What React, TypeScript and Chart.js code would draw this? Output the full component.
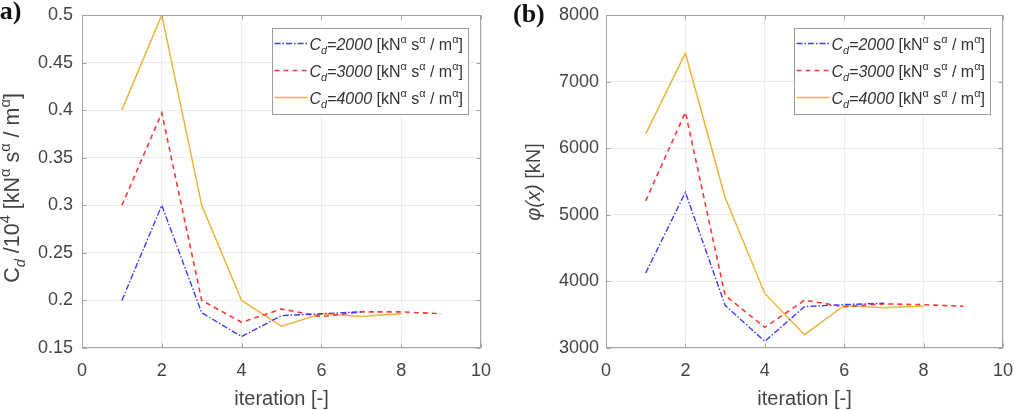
import React, { useEffect, useRef } from 'react';
import { Chart, registerables } from 'chart.js';

Chart.register(...registerables);

// ---------- data ----------
const iterBlue = [1, 2, 3, 4, 5, 6, 7];
const iterRed = [1, 2, 3, 4, 5, 6, 7, 8, 9];
const iterYellow = [1, 2, 3, 4, 5, 6, 7, 8];

const cdBlue = [0.2, 0.3, 0.187, 0.162, 0.184, 0.186, 0.188];
const cdRed = [0.3, 0.397, 0.2, 0.177, 0.191, 0.183, 0.188, 0.188, 0.186];
const cdYellow = [0.4, 0.5, 0.3, 0.2, 0.173, 0.186, 0.183, 0.186];

const phiBlue = [4126, 5338, 3641, 3100, 3621, 3652, 3671];
const phiRed = [5210, 6540, 3790, 3310, 3718, 3620, 3663, 3650, 3627];
const phiYellow = [6214, 7426, 5260, 3819, 3200, 3638, 3603, 3630];

const xTicks = [0, 2, 4, 6, 8, 10];
const cdTicks = [0.15, 0.2, 0.25, 0.3, 0.35, 0.4, 0.45, 0.5];
const phiTicks = [3000, 4000, 5000, 6000, 7000, 8000];

const cdValues = ['2000', '3000', '4000'];
const xTitle = 'iteration [-]';

// ---------- styles ----------
const FONT = '"Liberation Sans", Arial, Helvetica, sans-serif';
const TEXT = '#444444';
const BORDER = '#a3a3a3';
const GRID = '#ececec';
const seriesStyle = [
  { color: 'rgb(60,60,255)', dash: [6, 2, 1.5, 2], width: 1.4 },
  { color: 'rgb(255,55,55)', dash: [5, 4], width: 1.6 },
  { color: '#EDB53A', dash: [] as number[], width: 1.5 },
];

type Seg = { t: string; it?: boolean; sub?: boolean; sup?: boolean };

function richWidth(ctx: CanvasRenderingContext2D, segs: Seg[], size: number) {
  let w = 0;
  for (const s of segs) {
    const sz = s.sub || s.sup ? size * 0.68 : size;
    ctx.font = `${s.it ? 'italic ' : ''}${sz}px ${FONT}`;
    w += ctx.measureText(s.t).width;
  }
  return w;
}

function drawRich(ctx: CanvasRenderingContext2D, segs: Seg[], x: number, y: number, size: number) {
  let cx = x;
  ctx.textBaseline = 'alphabetic';
  ctx.textAlign = 'left';
  for (const s of segs) {
    const sz = s.sub || s.sup ? size * 0.68 : size;
    ctx.font = `${s.it ? 'italic ' : ''}${sz}px ${FONT}`;
    const dy = s.sub ? size * 0.28 : s.sup ? -size * 0.42 : 0;
    ctx.fillText(s.t, cx, y + dy);
    cx += ctx.measureText(s.t).width;
  }
}

function legendSegs(v: string): Seg[] {
  return [
    { t: 'C', it: true },
    { t: 'd', it: true, sub: true },
    { t: '=' + v, it: true },
    { t: ' [kN' },
    { t: 'α', sup: true },
    { t: ' s' },
    { t: 'α', sup: true },
    { t: ' / m' },
    { t: 'α', sup: true },
    { t: ']' },
  ];
}

const cdTitle: Seg[] = [
  { t: 'C' },
  { t: 'd', it: true, sub: true },
  { t: ' /10' },
  { t: '4', sup: true },
  { t: ' [kN' },
  { t: 'α', sup: true },
  { t: ' s' },
  { t: 'α', sup: true },
  { t: ' / m' },
  { t: 'α', sup: true },
  { t: ']' },
];

const phiTitle: Seg[] = [{ t: 'φ(x)', it: true }, { t: ' [kN]' }];

type PanelProps = {
  left: number;
  width: number;
  yWidth: number;
  padRight: number;
  series: number[][];
  iters: number[][];
  yTicks: number[];
  yTitle: Seg[];
  yTitleSize: number;
  yTitleX: number;
  yTitleY: number;
  label: string;
  labelX: number;
  labelY: number;
  tickPad: number;
};

function Panel(p: PanelProps) {
  const ref = useRef<HTMLCanvasElement>(null);
  useEffect(() => {
    const canvas = ref.current!;
    const decor = {
      id: 'decor',
      afterDraw(chart: any) {
        const ctx: CanvasRenderingContext2D = chart.ctx;
        const a = chart.chartArea;
        const xs = chart.scales.x;
        const ys = chart.scales.y;
        ctx.save();
        // box
        ctx.strokeStyle = BORDER;
        ctx.lineWidth = 1;
        const L = Math.round(a.left) + 0.5;
        const R = Math.round(a.right) - 0.5;
        const T = Math.round(a.top) + 0.5;
        const B = Math.round(a.bottom) - 0.5;
        ctx.strokeRect(L, T, R - L, B - T);
        // inward ticks
        ctx.beginPath();
        for (const v of xTicks) {
          const px = Math.round(xs.getPixelForValue(v)) + 0.5;
          ctx.moveTo(px, B); ctx.lineTo(px, B - 4);
          ctx.moveTo(px, T); ctx.lineTo(px, T + 4);
        }
        for (const v of p.yTicks) {
          const py = Math.round(ys.getPixelForValue(v)) + 0.5;
          ctx.moveTo(L, py); ctx.lineTo(L + 4, py);
          ctx.moveTo(R, py); ctx.lineTo(R - 4, py);
        }
        ctx.stroke();

        // legend
        const size = 16;
        let tw = 0;
        for (const v of cdValues) tw = Math.max(tw, richWidth(ctx, legendSegs(v), size));
        const bw = Math.round(37 + tw + 6);
        const bh = 86;
        const bx = Math.round(a.right - 13 - bw) + 0.5;
        const by = Math.round(a.top + 13) + 0.5;
        ctx.fillStyle = '#ffffff';
        ctx.fillRect(bx, by, bw, bh);
        ctx.strokeStyle = '#9c9c9c';
        ctx.lineWidth = 1;
        ctx.strokeRect(bx, by, bw, bh);
        cdValues.forEach((v, i) => {
          const ry = by + 15 + i * 27;
          const st = seriesStyle[i];
          ctx.beginPath();
          ctx.strokeStyle = st.color;
          ctx.lineWidth = st.width;
          ctx.setLineDash(st.dash);
          ctx.moveTo(bx + 2, ry);
          ctx.lineTo(bx + 35, ry);
          ctx.stroke();
          ctx.setLineDash([]);
          ctx.fillStyle = '#333333';
          drawRich(ctx, legendSegs(v), bx + 37, ry + 6, size);
        });

        // y title
        ctx.fillStyle = TEXT;
        const ts = p.yTitleSize;
        const w = richWidth(ctx, p.yTitle, ts);
        ctx.save();
        ctx.translate(p.yTitleX, p.yTitleY);
        ctx.rotate(-Math.PI / 2);
        drawRich(ctx, p.yTitle, -w / 2, 0, ts);
        ctx.restore();

        // x title
        ctx.font = `20px ${FONT}`;
        ctx.textAlign = 'center';
        ctx.textBaseline = 'alphabetic';
        ctx.fillStyle = TEXT;
        ctx.fillText(xTitle, (a.left + a.right) / 2, 405);

        // panel label
        ctx.font = `bold 26px "Liberation Serif", "Times New Roman", serif`;
        ctx.textAlign = 'left';
        ctx.fillStyle = '#111111';
        ctx.fillText(p.label, p.labelX, p.labelY);
        ctx.restore();
      },
    };

    const chart = new Chart(canvas, {
      type: 'line',
      data: {
        datasets: p.series.map((vals, i) => ({
          label: cdValues[i],
          data: p.iters[i].map((x, j) => ({ x, y: vals[j] })),
          borderColor: seriesStyle[i].color,
          borderWidth: seriesStyle[i].width,
          borderDash: seriesStyle[i].dash,
          pointRadius: 0,
          tension: 0,
          fill: false,
        })),
      },
      options: {
        animation: false,
        responsive: false,
        maintainAspectRatio: false,
        events: [],
        layout: { padding: { left: 0, top: 15, right: p.padRight, bottom: 0 } },
        plugins: { legend: { display: false }, tooltip: { enabled: false }, title: { display: false } },
        scales: {
          x: {
            type: 'linear',
            min: 0,
            max: 10,
            afterBuildTicks: (s: any) => { s.ticks = xTicks.map((v) => ({ value: v })); },
            afterFit: (s: any) => { s.height = 62; s.paddingLeft = 0; s.paddingRight = 0; },
            grid: { color: GRID, drawTicks: false },
            border: { display: false },
            ticks: {
              padding: 12,
              color: TEXT,
              font: { family: FONT, size: 18 },
              maxRotation: 0,
              callback: (v: any) => String(v),
            },
          },
          y: {
            type: 'linear',
            min: p.yTicks[0],
            max: p.yTicks[p.yTicks.length - 1],
            afterBuildTicks: (s: any) => { s.ticks = p.yTicks.map((v) => ({ value: v })); },
            afterFit: (s: any) => { s.width = p.yWidth; s.paddingTop = 0; s.paddingBottom = 0; },
            grid: { color: GRID, drawTicks: false },
            border: { display: false },
            ticks: {
              padding: p.tickPad,
              color: TEXT,
              font: { family: FONT, size: 18 },
              callback: (v: any) => String(Math.round(Number(v) * 1000) / 1000),
            },
          },
        },
      },
      plugins: [decor],
    } as any);
    return () => chart.destroy();
  }, []);
  return (
    <canvas
      ref={ref}
      width={p.width}
      height={410}
      style={{ position: 'absolute', left: p.left, top: 0, width: p.width, height: 410 }}
    />
  );
}

export default function App() {
  return (
    <div style={{ position: 'absolute', left: 0, top: 0, width: 1014, height: 410, overflow: 'hidden', background: '#ffffff' }}>
      <Panel
        left={0}
        width={507}
        yWidth={82}
        padRight={26}
        series={[cdBlue, cdRed, cdYellow]}
        iters={[iterBlue, iterRed, iterYellow]}
        yTicks={cdTicks}
        yTitle={cdTitle}
        yTitleSize={21.5}
        yTitleX={19}
        yTitleY={188}
        label="(a)"
        labelX={-9}
        labelY={19}
        tickPad={9}
      />
      <Panel
        left={507}
        width={507}
        yWidth={99}
        padRight={11}
        series={[phiBlue, phiRed, phiYellow]}
        iters={[iterBlue, iterRed, iterYellow]}
        yTicks={phiTicks}
        yTitle={phiTitle}
        yTitleSize={20}
        yTitleX={33}
        yTitleY={182}
        label="(b)"
        labelX={6}
        labelY={22}
        tickPad={7}
      />
    </div>
  );
}
